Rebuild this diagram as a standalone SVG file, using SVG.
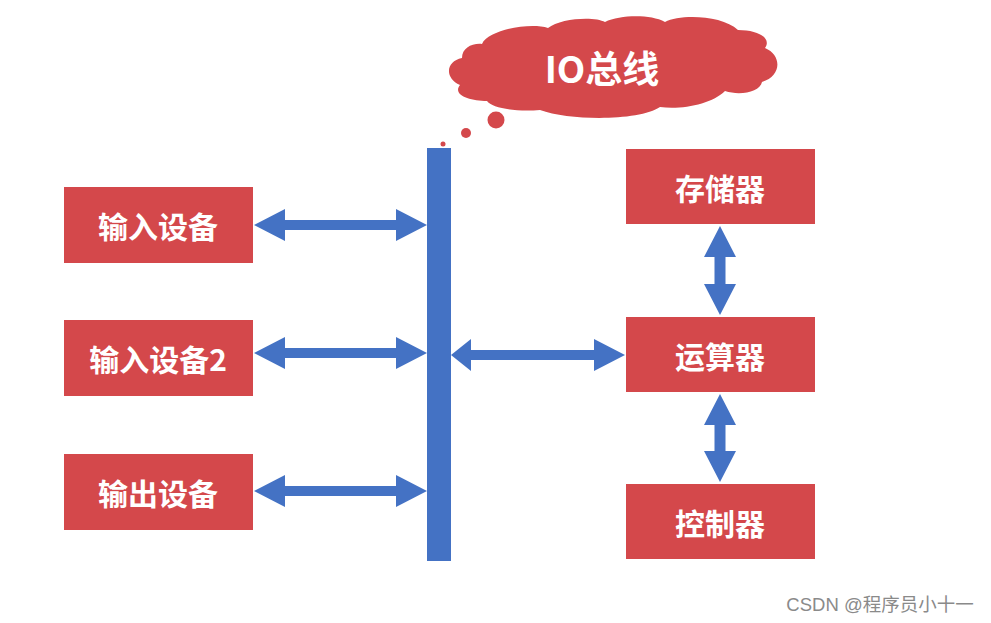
<svg xmlns="http://www.w3.org/2000/svg" width="991" height="623" viewBox="0 0 991 623">
<style>
.box{fill:#D4484B}
.lbl{fill:#fff;font-family:"Noto Sans CJK SC","Noto Sans",sans-serif;font-weight:bold;font-size:30px;text-anchor:middle;dominant-baseline:central}
.arr{fill:#4472C4}
.cloud{fill:#D4484B}
</style>
<rect width="991" height="623" fill="#fff"/>
<g id="cloud">
<g class="cloud">
<path d="M482,44 C488,30 530,22 548,28 C560,18 595,16 605,22 C620,15 650,14 665,22 C680,14 722,15 738,30 C758,30 772,38 765,48 C782,55 782,76 762,82 C760,92 740,96 725,91 C712,104 682,110 660,107 C640,121 570,121 540,110 C515,112 492,108 487,101 C470,101 452,95 460,85 C444,78 446,61 462,58 C462,48 472,43 482,44 Z"/>
<circle cx="496" cy="120" r="8.5"/>
<circle cx="466" cy="133" r="5"/>
<circle cx="443" cy="144" r="2.5"/>
</g>
<text class="lbl" x="602" y="67" style="font-size:37px">IO总线</text>
</g>
<g id="bus"><rect class="arr" x="427" y="148" width="24" height="413"/></g>
<g id="n1"><rect class="box" x="64" y="187" width="189" height="76"/><text class="lbl" x="158" y="225">输入设备</text></g>
<g id="n2"><rect class="box" x="64" y="320" width="189" height="76"/><text class="lbl" x="158" y="358">输入设备2</text></g>
<g id="n3"><rect class="box" x="64" y="454" width="189" height="76"/><text class="lbl" x="158" y="492">输出设备</text></g>
<g id="n4"><rect class="box" x="626" y="149" width="189" height="75"/><text class="lbl" x="720" y="187">存储器</text></g>
<g id="n5"><rect class="box" x="626" y="317" width="189" height="75"/><text class="lbl" x="720" y="355">运算器</text></g>
<g id="n6"><rect class="box" x="626" y="484" width="189" height="75"/><text class="lbl" x="720" y="522">控制器</text></g>
<g id="connectors" class="arr">
<polygon points="254,225 285,209 285,220 396,220 396,209 427,225 396,241 396,230 285,230 285,241"/>
<polygon points="254,353 285,337 285,348 396,348 396,337 427,353 396,369 396,358 285,358 285,369"/>
<polygon points="254,491 285,475 285,486 396,486 396,475 427,491 396,507 396,496 285,496 285,507"/>
<polygon points="451,355 471,339 471,350 594,350 594,339 625,355 594,371 594,360 471,360 471,371"/>
<polygon points="720,226 736,257 725.5,257 725.5,284 736,284 720,315 704,284 714.5,284 714.5,257 704,257"/>
<polygon points="720,394 736,425 725.5,425 725.5,451 736,451 720,482 704,451 714.5,451 714.5,425 704,425"/>
</g>
<text x="880" y="604" font-family="Liberation Sans,Noto Sans CJK SC,sans-serif" font-size="18.5" fill="#8a8a8a" text-anchor="middle" dominant-baseline="central">CSDN @程序员小十一</text>
</svg>
